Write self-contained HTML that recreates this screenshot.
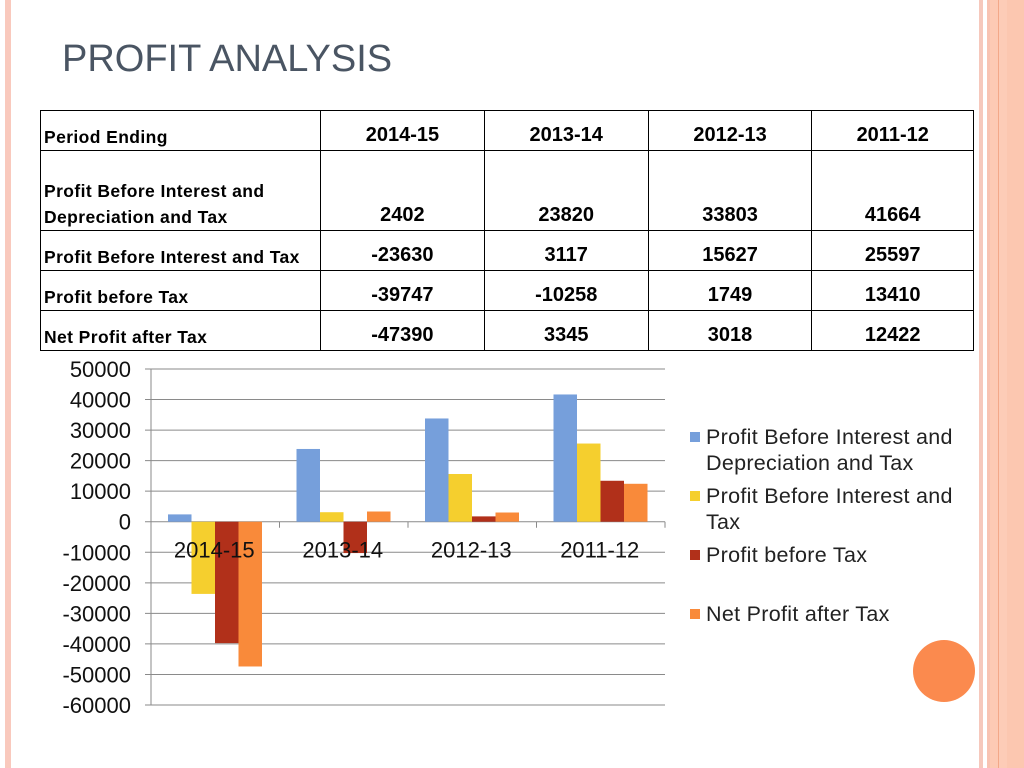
<!DOCTYPE html>
<html><head><meta charset="utf-8"><style>
body{margin:0;width:1024px;height:768px;background:#fff;position:relative;overflow:hidden;font-family:"Liberation Sans",sans-serif}
.abs{position:absolute}
table{position:absolute;left:40px;top:110px;border-collapse:collapse;width:934px;font-family:"Liberation Sans",sans-serif}
td{border:1px solid #000;padding:0 3px;font-weight:bold;vertical-align:bottom;height:39px;box-sizing:border-box;font-size:17px;line-height:26px}
td.n{text-align:center;font-size:20px;padding-bottom:2px}
td.l{font-size:17.5px;letter-spacing:0.4px;padding-bottom:0}
.leg{position:absolute;left:706px;font-size:21.5px;letter-spacing:0.3px;color:#222;line-height:26px}
.sq{position:absolute;left:690px;width:10px;height:10px}
</style></head><body>
<div class="abs" style="left:5px;top:0;width:6px;height:768px;background:#f9c9bd"></div>
<div class="abs" style="left:979px;top:0;width:45px;height:768px;background:linear-gradient(to right,#f6c8bc 0 4px,#fff 4px 8px,#f8c3b2 8px 11px,#fdcab4 11px 19px,#f3a888 19px 20px,#fdccb7 20px 28px,#fcc7b0 28px)"></div>
<div class="abs" style="left:62px;top:38px;font-size:38px;color:#4a5563">PROFIT ANALYSIS</div>
<table>
<tr style="height:40px"><td class="l" style="width:280px;height:40px">Period Ending</td><td class="n">2014-15</td><td class="n">2013-14</td><td class="n">2012-13</td><td class="n">2011-12</td></tr>
<tr style="height:80px"><td class="l" style="height:80px">Profit Before Interest and<br>Depreciation and Tax</td><td class="n">2402</td><td class="n">23820</td><td class="n">33803</td><td class="n">41664</td></tr>
<tr style="height:40px"><td class="l" style="height:40px">Profit Before Interest and Tax</td><td class="n">-23630</td><td class="n">3117</td><td class="n">15627</td><td class="n">25597</td></tr>
<tr style="height:40px"><td class="l" style="height:40px">Profit before Tax</td><td class="n">-39747</td><td class="n">-10258</td><td class="n">1749</td><td class="n">13410</td></tr>
<tr style="height:40px"><td class="l" style="height:40px">Net Profit after Tax</td><td class="n">-47390</td><td class="n">3345</td><td class="n">3018</td><td class="n">12422</td></tr>
</table>
<svg id="chart" class="abs" style="left:0;top:0" width="1024" height="768"></svg>
<div class="sq" style="top:432px;background:#769fdb"></div>
<div class="leg" style="top:424px">Profit Before Interest and<br>Depreciation and Tax</div>
<div class="sq" style="top:491px;background:#f5cf2e"></div>
<div class="leg" style="top:483px">Profit Before Interest and<br>Tax</div>
<div class="sq" style="top:550px;background:#b1301a"></div>
<div class="leg" style="top:542px">Profit before Tax</div>
<div class="sq" style="top:609px;background:#f98a3a"></div>
<div class="leg" style="top:601px">Net Profit after Tax</div>
<div class="abs" style="left:913px;top:640px;width:62px;height:62px;border-radius:50%;background:#fb8a4e"></div>
<script>
const categories=["2014-15","2013-14","2012-13","2011-12"];
const pbidt=[2402,23820,33803,41664];
const pbit=[-23630,3117,15627,25597];
const pbt=[-39747,-10258,1749,13410];
const npat=[-47390,3345,3018,12422];
const ticks=[50000,40000,30000,20000,10000,0,-10000,-20000,-30000,-40000,-50000,-60000];
const series=[pbidt,pbit,pbt,npat];
const colors=["#769fdb","#f5cf2e","#b1301a","#f98a3a"];
const NS="http://www.w3.org/2000/svg";
const svg=document.getElementById('chart');
const x0=151,x1=665,y0=369,yb=705;
const vmax=50000,vmin=-60000;
function y(v){return y0+(vmax-v)/(vmax-vmin)*(yb-y0);}
const cw=(x1-x0)/categories.length;
function mk(t,a){const e=document.createElementNS(NS,t);for(const k in a)e.setAttribute(k,a[k]);svg.appendChild(e);return e;}
ticks.forEach(t=>{
  const l=mk('line',{x1:x0-6,x2:x1,y1:y(t),y2:y(t),stroke:'#8a8a8a','stroke-width':1});
  
  
  const tx=mk('text',{x:131,y:y(t)+8,'text-anchor':'end','font-size':22,fill:'#111','font-family':'Liberation Sans, sans-serif'});
  tx.textContent=t;
  
  
});
const ax=mk('line',{x1:x0,x2:x0,y1:y0,y2:yb,stroke:'#8a8a8a'});


const bw=23.5,off=17;
categories.forEach((c,i)=>{
  series.forEach((s,j)=>{
    const v=s[i];
    const r=mk('rect',{x:x0+i*cw+off+j*bw,y:Math.min(y(v),y(0)),width:bw,height:Math.abs(y(v)-y(0)),fill:colors[j]});
    
    
  });
  const tk=mk('line',{x1:x0+(i+1)*cw,x2:x0+(i+1)*cw,y1:y(0),y2:y(0)+6,stroke:'#8a8a8a'});
  
  
  const t=mk('text',{x:x0+i*cw+cw/2-1,y:y(0)+36,'text-anchor':'middle','font-size':22,fill:'#111','font-family':'Liberation Sans, sans-serif'});
  t.textContent=c;
  
  
});
</script>
</body></html>
